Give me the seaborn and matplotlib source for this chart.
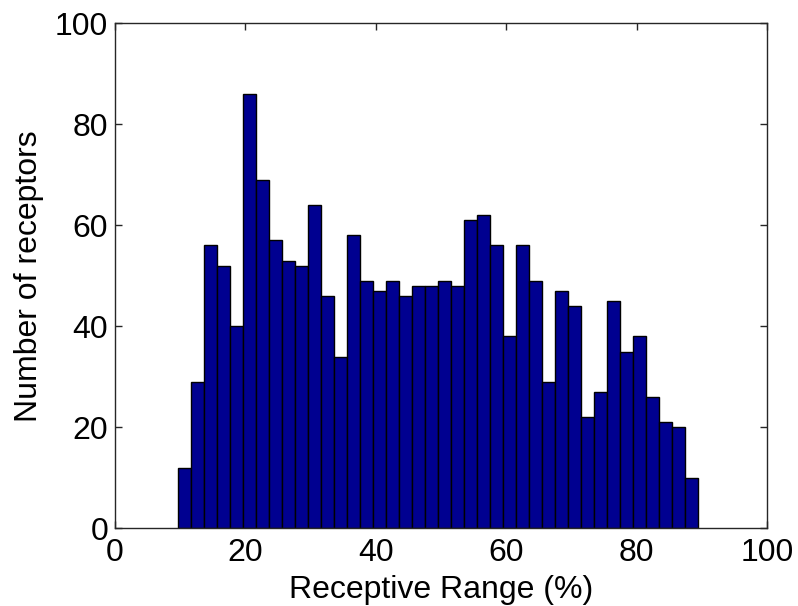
import numpy as np
import pandas as pd
import matplotlib
matplotlib.use("Agg")
import matplotlib.pyplot as plt
import seaborn as sns

# Histogram data: 40 bins spanning the receptive range
bin_start = 9.6
bin_end = 89.4
counts = [12, 29, 56, 52, 40, 86, 69, 57, 53, 52,
          64, 46, 34, 58, 49, 47, 49, 46, 48, 48,
          49, 48, 61, 62, 56, 38, 56, 49, 29, 47,
          44, 22, 27, 45, 35, 38, 26, 21, 20, 10]
x_ticks = [0, 20, 40, 60, 80, 100]
y_ticks = [0, 20, 40, 60, 80, 100]

edges = [float(e) for e in np.linspace(bin_start, bin_end, len(counts) + 1)]
centers = [(a + b) / 2 for a, b in zip(edges[:-1], edges[1:])]
df = pd.DataFrame({"range": centers, "count": counts})

sns.set_style("white")
plt.rcParams["font.family"] = ["Liberation Sans", "DejaVu Sans"]

fig = plt.figure(figsize=(7.98, 6.06), dpi=100)
ax = fig.add_axes([115 / 798, 1 - 528.3 / 606, (767.3 - 115) / 798, (528.3 - 23.3) / 606])

sns.histplot(data=df, x="range", weights="count", bins=edges, ax=ax,
             color="#000090", edgecolor="black", linewidth=1.0, alpha=1.0)

ax.set_xlim(0, 100)
ax.set_ylim(0, 100)
ax.set_xticks(x_ticks)
ax.set_yticks(y_ticks)
ax.tick_params(direction="in", length=5, width=1, colors="#262626",
               labelsize=23, labelcolor="black", top=True, right=True,
               bottom=True, left=True, pad=5)
ax.tick_params(axis="x", pad=7)
for s in ax.spines.values():
    s.set_color("#262626")
    s.set_linewidth(1.0)
    s.set_visible(True)

ax.set_xlabel("Receptive Range (%)", fontsize=23, color="black", labelpad=5)
ax.set_ylabel("Number of receptors", fontsize=23, color="black", labelpad=8)

fig.savefig("out.png", dpi=100)
